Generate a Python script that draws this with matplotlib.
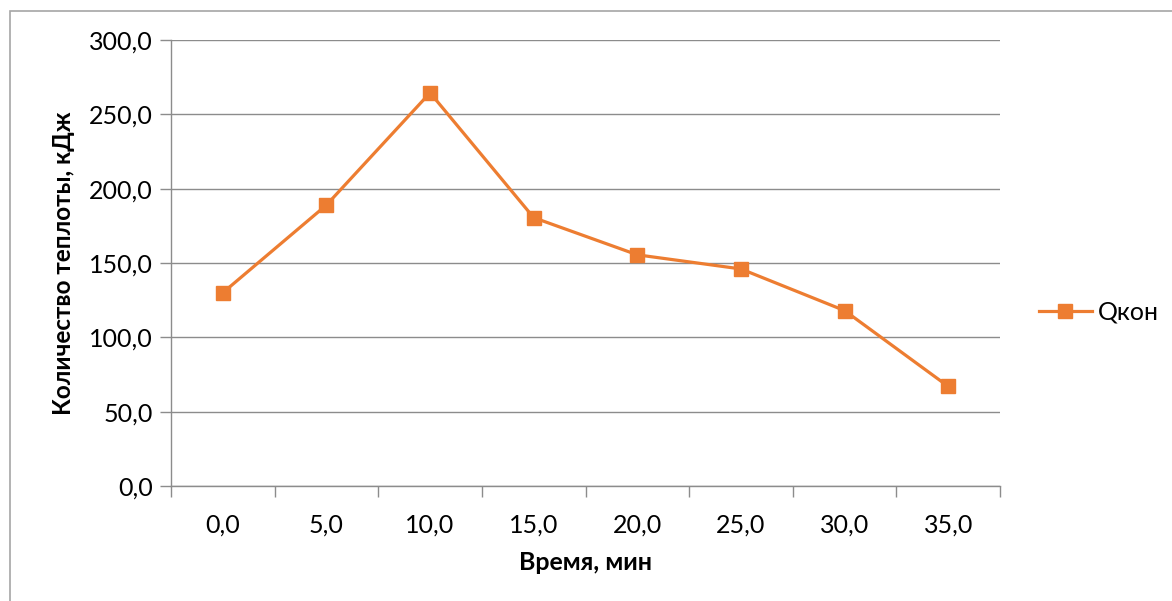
import matplotlib
matplotlib.use("Agg")
import matplotlib.pyplot as plt
from matplotlib.patches import Rectangle
import numpy as np

# data
times = ["0,0", "5,0", "10,0", "15,0", "20,0", "25,0", "30,0", "35,0"]
q_kon = [130, 189, 264.5, 180.5, 155.5, 146, 118, 67]
y_ticks = [0, 50, 100, 150, 200, 250, 300]

plt.rcParams['font.family'] = ['Lato', 'DejaVu Sans']
orange = '#ED7D31'
grid_col = '#8C8C8C'

fig = plt.figure(figsize=(11.72, 6.01), dpi=100)
ax = fig.add_axes([171/1172, 1 - 486/601, (1000 - 171)/1172, (486 - 40)/601])

x = np.arange(len(times))
ax.plot(x, q_kon, '-s', color=orange, linewidth=2.3, markersize=9.5, label="Qкон", zorder=3)

ax.set_xlim(-0.5, len(times) - 0.5)
ax.set_ylim(0, 300)
ax.set_yticks(y_ticks)
ax.set_yticklabels([f"{v:.1f}".replace('.', ',') for v in y_ticks])
ax.yaxis.grid(True, color=grid_col, linewidth=1)
ax.set_axisbelow(True)

# category boundaries get the tick marks, centres get the labels
ax.set_xticks(np.arange(-0.5, len(times), 1))
ax.set_xticklabels([])
ax.set_xticks(x, minor=True)
ax.set_xticklabels(times, minor=True)
ax.tick_params(axis='x', which='major', length=8, color=grid_col, width=1)
ax.tick_params(axis='x', which='minor', length=0, pad=20, labelsize=18)
ax.tick_params(axis='y', length=8, color=grid_col, width=1, labelsize=18, pad=5)

for s in ['top', 'right']:
    ax.spines[s].set_visible(False)
for s in ['left', 'bottom']:
    ax.spines[s].set_color(grid_col)
    ax.spines[s].set_linewidth(1)

ax.set_xlabel("Время, мин", fontsize=18, fontweight='bold', labelpad=10)
ax.set_ylabel("Количество теплоты, кДж", fontsize=17.5, fontweight='bold', labelpad=10)

ax.legend(loc='center left', bbox_to_anchor=(1.02, 0.39), frameon=False,
          fontsize=18, handlelength=2.1, handletextpad=0.25)

fig.add_artist(Rectangle((10/1172, -0.1), 1.2, 1.1 - 11/601, transform=fig.transFigure,
                         fill=False, edgecolor='#A6A6A6', linewidth=1.2))

fig.savefig("out.png", dpi=100)
